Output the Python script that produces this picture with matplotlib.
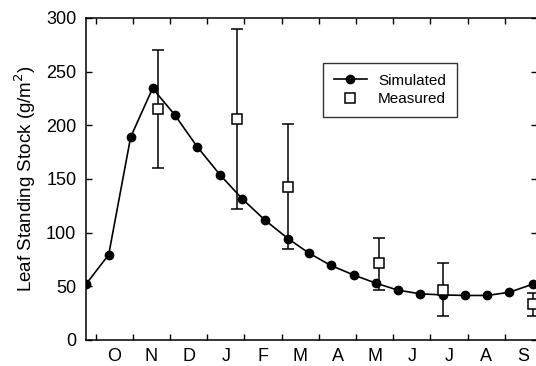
import numpy as np
import matplotlib
matplotlib.use("Agg")
import matplotlib.pyplot as plt

# ===== data (x in months from 1 Oct) =====
sim_x = [-0.26, 0.35, 0.94, 1.53, 2.12, 2.73, 3.34, 3.94, 4.54, 5.17, 5.73,
         6.32, 6.94, 7.53, 8.12, 8.73, 9.33, 9.93, 10.53, 11.12, 11.75]
sim_y = [52, 79.5, 189, 234.5, 210, 180, 154, 131.5, 112, 94.5, 81,
         69.5, 60.5, 53, 46.5, 43, 42, 41.5, 41.5, 44.5, 52]

meas_x = [1.68, 3.81, 5.17, 7.61, 9.34, 11.75]
meas_y = [215, 206, 143, 71.5, 47, 33.5]
meas_lo = [160, 122, 84.5, 47, 22.5, 22.5]
meas_hi = [270, 289.5, 201, 95, 72, 44]

months = ["O", "N", "D", "J", "F", "M", "A", "M", "J", "J", "A", "S"]

plt.rcParams["font.family"] = ["Liberation Sans", "DejaVu Sans"]

fig = plt.figure(figsize=(5.36, 3.66), dpi=100)
ax = fig.add_axes([86 / 536, 1 - 340 / 366, 450.5 / 536, 322 / 366])

ax.plot(sim_x, sim_y, "-o", color="black", lw=1.2, ms=6, label="Simulated", zorder=3)

err = [np.array(meas_y) - np.array(meas_lo), np.array(meas_hi) - np.array(meas_y)]
ax.errorbar(meas_x, meas_y, yerr=err, fmt="none", ecolor="black", elinewidth=1.1,
            capsize=4.5, capthick=1.1, zorder=2)
ax.plot(meas_x, meas_y, "s", mfc="white", mec="black", mew=1.1, ms=7.5,
        linestyle="none", label="Measured", zorder=4)

ax.set_xlim(-0.26, 11.85)
ax.set_ylim(0, 300)

ax.set_xticks(np.arange(0, 12))
ax.set_xticklabels([])
ax.set_xticks(np.arange(12) + 0.5, minor=True)
ax.set_xticklabels(months, minor=True, fontsize=13)
ax.tick_params(axis="x", which="major", direction="in", length=4, top=True, width=1)
ax.tick_params(axis="x", which="minor", length=0, pad=6)

ax.set_yticks(np.arange(0, 301, 50))
ax.tick_params(axis="y", direction="in", length=4, right=True, labelsize=13,
               width=1, pad=7)

ax.set_ylabel("Leaf Standing Stock (g/m$^2$)", fontsize=13.5, labelpad=6)

for s in ax.spines.values():
    s.set_linewidth(1.1)

leg = ax.legend(loc="upper left", bbox_to_anchor=(0.526, 0.86), fontsize=11,
                frameon=True, fancybox=False, edgecolor="black",
                handlelength=2.2, handletextpad=0.7, borderpad=0.7,
                labelspacing=0.3, borderaxespad=0)
leg.get_frame().set_linewidth(1.0)

fig.savefig("out.png", dpi=100)
